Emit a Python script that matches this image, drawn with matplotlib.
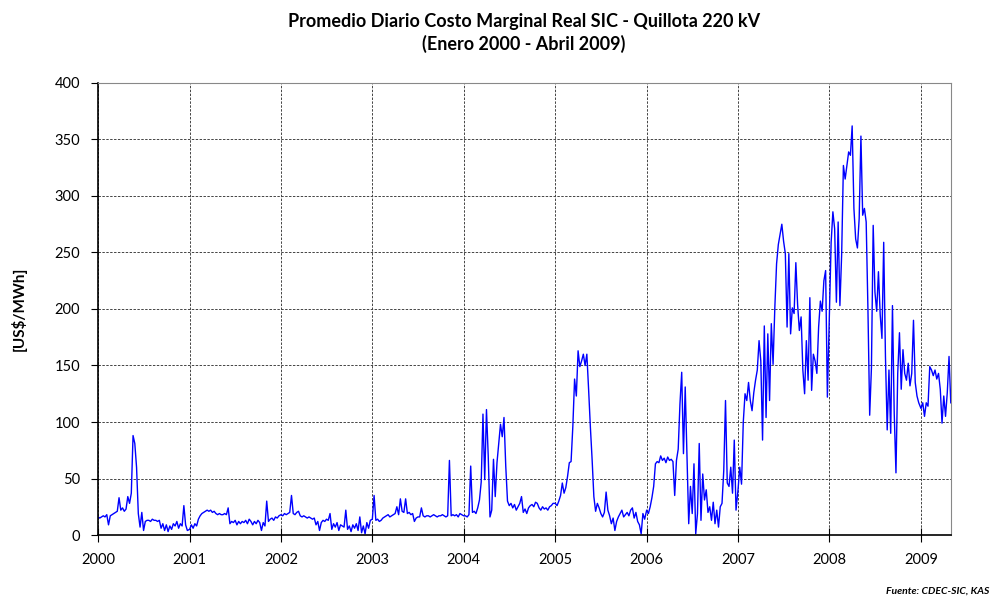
import matplotlib
matplotlib.use('Agg')
import matplotlib.pyplot as plt
import matplotlib.dates as mdates
import numpy as np
import pandas as pd

# valores semanales (US$/MWh)
v2000 = [16, 15, 16, 17, 16, 18, 9, 17, 18,
         19, 20, 21, 33, 22, 24, 21, 23, 34, 28, 37,
         88, 81, 60, 19, 7, 20, 4, 12,
         13, 13, 12, 14, 13, 13, 12, 13,
         6, 10, 4, 9, 3, 8, 5, 10,
         8, 12, 6, 10, 8, 26, 9, 4]
v2001 = [5, 9, 6, 10, 8, 14, 17,
         19, 20, 21, 22, 21, 22,
         20, 21, 19, 18, 19, 18, 18, 19, 18,
         24, 10, 12,
         11, 13, 9, 12, 10, 12, 11, 13, 10, 14, 12, 9, 12, 10, 13, 11,
         4, 11, 8, 30, 12,
         14, 15, 13, 16, 15, 17]
v2002 = [18, 17, 19, 18, 19, 20, 35,
         19, 18, 20, 21,
         17, 16, 17, 16, 15, 16, 15, 14, 15,
         9, 12, 4, 11, 13, 12, 14, 13, 19,
         5, 10, 7, 11, 4, 9, 8, 7, 22,
         5, 8, 3, 9, 6, 10, 4,
         16, 2, 8, 1, 11, 6, 13]
v2003 = [14, 35, 13, 14, 12, 13, 15, 16,
         17, 18, 16, 17, 18, 19, 25, 18, 32, 21, 20, 32,
         19, 20, 18, 19, 12, 15, 16, 16, 24,
         17, 16, 17, 17, 16, 17, 18, 17, 16, 17, 17, 18, 17, 16, 17,
         66, 17, 18, 17, 18, 16, 19, 18]
v2004 = [17, 17, 16, 18, 61, 20, 21, 19, 24, 31,
         47, 107, 49, 111, 70, 16, 22, 67, 34, 64,
         81, 98, 87, 104, 61, 30,
         26, 28, 24, 27, 22, 25, 28, 34,
         20, 23, 19, 24, 26, 27, 25, 29, 28,
         24, 22, 25, 23, 24, 22, 25, 26, 28]
v2005 = [28, 26, 30, 35, 46, 37, 42, 52, 64, 65,
         96, 138, 123, 163, 149, 154, 160, 150, 160, 129,
         96, 67, 34, 21, 28, 24, 19, 16, 20, 38,
         22, 17, 10, 15, 4, 12, 16, 19, 22, 16, 18,
         20, 17, 22, 24, 15, 20, 12, 9, 1, 19, 14]
v2006 = [22, 19, 25, 33, 43, 63, 65, 64, 70, 66, 68,
         64, 69, 66, 67, 65, 35, 66, 76, 116,
         144, 72, 131, 69, 10, 43, 19, 63, 1, 19,
         81, 13, 54, 31, 40, 20, 25, 13, 29, 10,
         22, 7, 25, 28, 57, 119, 46, 43, 60, 37, 84, 22]
v2007 = [40, 60, 45, 100, 125, 119, 135, 119, 110, 126, 137,
         146, 172, 154, 84, 185, 104, 178, 119, 187,
         151, 201, 240, 257, 266, 275, 260, 249, 184, 249,
         178, 201, 196, 241, 204, 181, 193, 146, 125, 172,
         137, 210, 128, 160, 154, 143, 184, 207, 198, 225, 234, 122]
v2008 = [195, 259, 286, 271, 206, 277, 203, 248, 327, 315,
         327, 339, 336, 362, 289, 262, 254, 280, 353, 283,
         289, 277, 200, 106, 148, 274, 215, 198, 233, 195,
         174, 259, 158, 93, 146, 90, 203, 108, 55, 143,
         179, 129, 164, 143, 137, 152, 132, 143, 190, 135, 123, 117]
v2009 = [112, 117, 105, 117, 114, 149, 146, 141, 146, 138,
         143, 129, 99, 123, 105, 126, 158, 117]

anios = [2000, 2001, 2002, 2003, 2004, 2005, 2006, 2007, 2008, 2009]
series = [v2000, v2001, v2002, v2003, v2004, v2005, v2006, v2007, v2008, v2009]

fechas = []
valores = []
for a, v in zip(anios, series):
    fechas.extend(pd.date_range(f'{a}-01-01', periods=len(v), freq='7D'))
    valores.extend(v)

fam = ['Lato', 'DejaVu Sans']
plt.rcParams['font.family'] = fam

fig = plt.figure(figsize=(9.92, 6.07), dpi=100)
ax = fig.add_axes([0.0988, 0.1186, 0.8599, 0.7447])

ax.plot(fechas, valores, color='#0000ff', linewidth=1.0)

ax.set_xlim(pd.Timestamp('2000-01-01'), pd.Timestamp('2009-05-01'))
ax.set_ylim(0, 400)
ax.set_yticks(np.arange(0, 401, 50))
ax.xaxis.set_major_locator(mdates.YearLocator())
ax.xaxis.set_major_formatter(mdates.DateFormatter('%Y'))

ax.grid(True, color='#444444', linestyle=(0, (2.5, 1.5)), linewidth=0.7)
ax.tick_params(axis='y', direction='out', length=5, labelsize=10.5, pad=8)
ax.tick_params(axis='x', direction='inout', length=10, labelsize=10.5, pad=8)
for s in ['top', 'right']:
    ax.spines[s].set_color('#888888')
    ax.spines[s].set_linewidth(0.8)
for s in ['left', 'bottom']:
    ax.spines[s].set_linewidth(1.2)

ax.set_ylabel('[US$/MWh]', fontsize=11, fontweight='bold', labelpad=20)

fig.text(0.528, 0.978, 'Promedio Diario Costo Marginal Real SIC - Quillota 220 kV\n(Enero 2000 - Abril 2009)',
         ha='center', va='top', fontsize=13, fontweight='bold', linespacing=1.3)
fig.text(0.997, 0.018, 'Fuente: CDEC-SIC, KAS', ha='right', va='bottom',
         fontsize=7.5, fontweight='bold', fontstyle='italic')

fig.savefig('out.png', dpi=100)
